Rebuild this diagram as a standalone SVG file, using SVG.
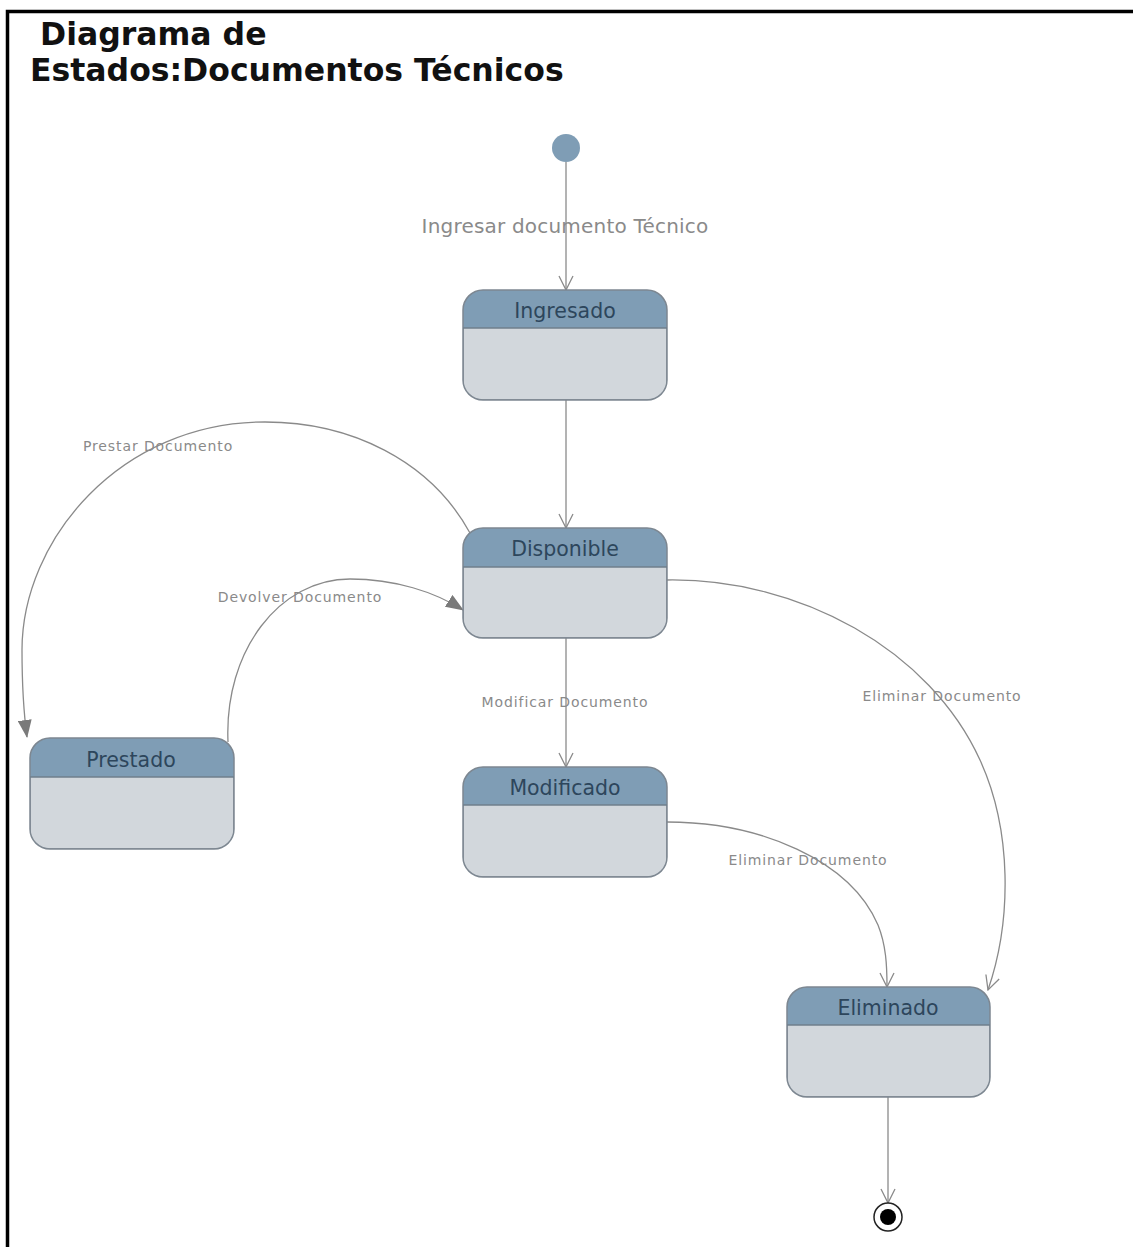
<svg xmlns="http://www.w3.org/2000/svg" width="1133" height="1247" viewBox="0 0 1133 1247">
<style>
.hdr{fill:#7f9db5}
.body{fill:#d2d7dc;stroke:#7d8791;stroke-width:1.5}
.sep{stroke:#6f7f8c;stroke-width:1.5}
.nlabel{font-family:"DejaVu Sans",Verdana,sans-serif;font-size:20.5px;fill:#2d465c;text-anchor:middle}
.conn{fill:none;stroke:#8a8a8a;stroke-width:1.3}
.clabel{font-family:"DejaVu Sans",Verdana,sans-serif;font-size:14px;fill:#8a8a8a;text-anchor:middle;letter-spacing:0.9px}
.title{font-family:"DejaVu Sans",Verdana,sans-serif;font-weight:bold;font-size:31.5px;fill:#111}
</style>
<defs>
<marker id="open" markerUnits="userSpaceOnUse" markerWidth="16" markerHeight="16" viewBox="0 0 16 16" refX="15" refY="8" orient="auto">
<path d="M1,1 L15,8 L1,15" fill="none" stroke="#8a8a8a" stroke-width="1.3"/>
</marker>
<marker id="filled" markerUnits="userSpaceOnUse" markerWidth="18" markerHeight="14" viewBox="0 0 18 14" refX="17" refY="7" orient="auto">
<path d="M0,0 L18,7 L0,14 Z" fill="#7a7a7a"/>
</marker>
<clipPath id="cIng"><rect x="463" y="290" width="204" height="110" rx="20"/></clipPath>
<clipPath id="cDis"><rect x="463" y="528" width="204" height="110" rx="20"/></clipPath>
<clipPath id="cPre"><rect x="30" y="738" width="204" height="111" rx="20"/></clipPath>
<clipPath id="cMod"><rect x="463" y="767" width="204" height="110" rx="20"/></clipPath>
<clipPath id="cEli"><rect x="787" y="987" width="203" height="110" rx="20"/></clipPath>
</defs>
<rect x="0" y="0" width="1133" height="1247" fill="#fff"/>
<path d="M7.5,1247 V11.5 H1133" fill="none" stroke="#000" stroke-width="3.5"/>
<g id="title">
<text class="title" x="40" y="45">Diagrama de</text>
<text class="title" x="30" y="81">Estados:Documentos Técnicos</text>
</g>
<g id="connectors">
<path class="conn" d="M566,162 V290" marker-end="url(#open)"/>
<text class="clabel" x="565" y="233" style="font-size:20px;letter-spacing:0.2px">Ingresar documento Técnico</text>
<path class="conn" d="M566,400 V528" marker-end="url(#open)"/>
<path class="conn" d="M470,533 C430,460 350,422 265,422 C120,422 22,540 22,650 C22,690 24,715 27,737" marker-end="url(#filled)"/>
<text class="clabel" x="158" y="451">Prestar Documento</text>
<path class="conn" d="M228,742 C224,650 280,579 350,579 C395,579 435,592 463,610" marker-end="url(#filled)"/>
<text class="clabel" x="300" y="602">Devolver Documento</text>
<path class="conn" d="M566,638 V767" marker-end="url(#open)"/>
<text class="clabel" x="565" y="707">Modificar Documento</text>
<path class="conn" d="M667,580 C800,578 930,650 980,760 C1012,830 1012,920 988,990" marker-end="url(#open)"/>
<text class="clabel" x="942" y="701">Eliminar Documento</text>
<path class="conn" d="M667,822 C760,822 850,860 878,925 C886,945 887,965 887,987" marker-end="url(#open)"/>
<text class="clabel" x="808" y="865">Eliminar Documento</text>
<path class="conn" d="M888,1097 V1203" marker-end="url(#open)"/>
</g>
<g id="initial">
<circle cx="566" cy="148" r="14" fill="#7f9db5"/>
</g>
<g id="ingresado">
<g clip-path="url(#cIng)"><rect x="463" y="290" width="204" height="110" class="body"/><rect x="463" y="290" width="204" height="38" class="hdr"/></g>
<rect x="463" y="290" width="204" height="110" rx="20" fill="none" stroke="#7d8791" stroke-width="1.5"/>
<line x1="463" y1="328" x2="667" y2="328" class="sep"/>
<text class="nlabel" x="565" y="318">Ingresado</text>
</g>
<g id="disponible">
<g clip-path="url(#cDis)"><rect x="463" y="528" width="204" height="110" class="body"/><rect x="463" y="528" width="204" height="39" class="hdr"/></g>
<rect x="463" y="528" width="204" height="110" rx="20" fill="none" stroke="#7d8791" stroke-width="1.5"/>
<line x1="463" y1="567" x2="667" y2="567" class="sep"/>
<text class="nlabel" x="565" y="556">Disponible</text>
</g>
<g id="prestado">
<g clip-path="url(#cPre)"><rect x="30" y="738" width="204" height="111" class="body"/><rect x="30" y="738" width="204" height="39" class="hdr"/></g>
<rect x="30" y="738" width="204" height="111" rx="20" fill="none" stroke="#7d8791" stroke-width="1.5"/>
<line x1="30" y1="777" x2="234" y2="777" class="sep"/>
<text class="nlabel" x="131" y="767">Prestado</text>
</g>
<g id="modificado">
<g clip-path="url(#cMod)"><rect x="463" y="767" width="204" height="110" class="body"/><rect x="463" y="767" width="204" height="38" class="hdr"/></g>
<rect x="463" y="767" width="204" height="110" rx="20" fill="none" stroke="#7d8791" stroke-width="1.5"/>
<line x1="463" y1="805" x2="667" y2="805" class="sep"/>
<text class="nlabel" x="565" y="795">Modificado</text>
</g>
<g id="eliminado">
<g clip-path="url(#cEli)"><rect x="787" y="987" width="203" height="110" class="body"/><rect x="787" y="987" width="203" height="38" class="hdr"/></g>
<rect x="787" y="987" width="203" height="110" rx="20" fill="none" stroke="#7d8791" stroke-width="1.5"/>
<line x1="787" y1="1025" x2="990" y2="1025" class="sep"/>
<text class="nlabel" x="888" y="1015">Eliminado</text>
</g>
<g id="final">
<circle cx="888" cy="1217" r="14" fill="#fff" stroke="#222" stroke-width="1.5"/>
<circle cx="888" cy="1217" r="8" fill="#000"/>
</g>
</svg>
